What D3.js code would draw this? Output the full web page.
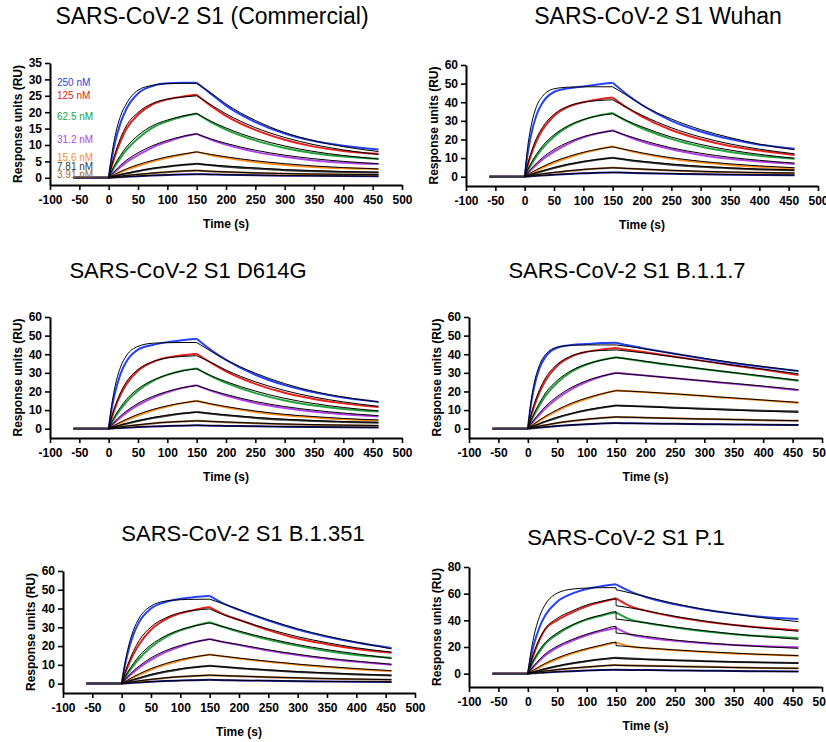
<!DOCTYPE html>
<html>
<head>
<meta charset="utf-8">
<script src="https://cdn.jsdelivr.net/npm/d3@7"></script>
<style>
  body { margin: 0; background: #fff; }
  svg text { font-family: "Liberation Sans", Arial, sans-serif; }
</style>
</head>
<body>
<script>
// time points (s) for the sensorgrams and for the fitted curves (150 twice = step of the fit)
const times = [-60, 0, 5, 10, 20, 30, 50, 75, 100, 125, 150, 175, 200, 250, 300, 350, 400, 460];
const fitTimes = [0, 5, 10, 20, 30, 50, 75, 100, 125, 150, 150, 175, 200, 250, 300, 350, 400, 460];

const concLabels = ["250 nM", "125 nM", "62.5 nM", "31.2 nM", "15.6 nM", "7.81 nM", "3.91 nM", "1.95 nM"];
const seriesColors = ["#2442f5", "#e3211c", "#22a33a", "#b23ee6", "#ff8c1a", "#3a3a3a", "#a0662e", "#1c1c9a"];

const xTicks = [-100, -50, 0, 50, 100, 150, 200, 250, 300, 350, 400, 450, 500];
const yTicks35 = [0, 5, 10, 15, 20, 25, 30, 35];
const yTicks60 = [0, 10, 20, 30, 40, 50, 60];
const yTicks80 = [0, 20, 40, 60, 80];

// SARS-CoV-2 S1 (Commercial)
const commercialData = [
  [0,0,5.6,10.1,16.6,20.9,25.7,28,28.8,29,29,25.5,22,17,13.5,11.2,9.8,8.6],
  [0,0,3.3,6.2,11,14.8,19.2,22.4,23.9,24.7,25.3,21.8,18.9,14.6,11.6,9.5,8.2,7.3],
  [0,0,1.7,3.3,6,8.4,12,15.3,17.2,18.6,19.6,16.9,14.7,11.4,9.1,7.5,6.5,5.8],
  [0,0,0.9,1.7,3.3,4.7,6.9,9.3,11,12.4,13.4,11.6,10.1,7.9,6.4,5.3,4.6,4.2],
  [0,0,0.4,0.9,1.7,2.4,3.6,5,6.1,7,7.9,6.9,6.1,4.8,3.9,3.3,2.9,2.7],
  [0,0,0.2,0.5,0.9,1.3,2,2.8,3.4,3.9,4.3,3.8,3.4,2.8,2.3,2,1.8,1.6],
  [0,0,0.1,0.2,0.4,0.6,1,1.4,1.7,2,2.2,1.95,1.75,1.45,1.25,1.1,1,0.9],
  [0,0,0.05,0.1,0.2,0.3,0.5,0.7,0.85,1,1.1,1,0.9,0.75,0.65,0.6,0.55,0.5]
];
const commercialFit = [
  [0,6.7,11.9,18.7,22.5,26.7,28.2,28.7,28.8,28.8,28.8,25.8,22.5,17.5,13.8,11.3,9.5,8],
  [0,3.7,6.9,12,15.8,19.9,22.7,24,24.6,25,25,22.2,19.5,15.3,12.3,10.1,8.5,7.1],
  [0,2,3.8,6.8,9.3,12.9,15.9,17.6,18.8,19.6,19.6,17.2,15.2,12,9.7,8,6.8,5.7],
  [0,1,2,3.8,5.3,7.6,9.8,11.4,12.6,13.4,13.4,11.8,10.5,8.4,6.9,5.8,5,4.3],
  [0,0.5,1,1.9,2.7,4,5.3,6.4,7.2,7.9,7.9,7.1,6.4,5.2,4.3,3.6,3.1,2.7],
  [0,0.25,0.5,1,1.4,2.1,2.9,3.5,3.9,4.3,4.3,3.9,3.6,3,2.5,2.2,1.9,1.7],
  [0,0.12,0.24,0.5,0.7,1.05,1.45,1.8,2.05,2.2,2.2,2,1.8,1.5,1.3,1.15,1.05,0.95],
  [0,0.06,0.12,0.25,0.35,0.55,0.75,0.9,1.02,1.1,1.1,1.02,0.93,0.8,0.7,0.62,0.57,0.52]
];

// SARS-CoV-2 S1 Wuhan
const wuhanData = [
  [0,0,12,21,33,39.5,45.5,47.5,48.5,49.5,50.5,44,38.5,30,24.3,20.2,17.2,15],
  [0,0,5.8,10.9,19,24.9,32.6,37.6,40,41.5,42.5,36.9,32.3,25.1,20.1,16.5,14,11.7],
  [0,0,3.1,5.9,10.9,15.1,21.5,27,30.5,32.8,34.2,29.7,26,20.3,16.2,13.3,11.3,9.6],
  [0,0,1.7,3.4,6.4,9.1,13.5,17.8,21.1,23.3,25,21.7,18.9,14.7,11.7,9.6,8.1,6.8],
  [0,0,0.9,1.7,3.3,4.8,7.5,10.3,12.7,14.6,16.3,14.2,12.4,9.6,7.7,6.3,5.3,4.5],
  [0,0,0.5,1,2,2.9,4.6,6.5,8,9.2,10.2,9,8,6.4,5.3,4.5,3.9,3.4],
  [0,0,0.2,0.5,1,1.4,2.2,3.1,3.8,4.4,4.8,4.4,4,3.3,2.8,2.4,2.1,1.9],
  [0,0,0.1,0.2,0.5,0.7,1.1,1.5,1.8,2.1,2.3,2.1,1.9,1.6,1.3,1.1,0.9,0.8]
];
const wuhanFit = [
  [0,15.6,25.6,37.6,43,47.2,48.1,48.3,48.3,48.3,48.3,43.5,38.5,31,25.3,21,17.5,14.5],
  [0,6.5,12,20.5,26.3,33.5,38,40,40.9,41.3,41.3,37,33,26.3,21.3,17.6,14.8,12.3],
  [0,3.6,6.8,12,16.3,22.5,27.5,30.7,32.7,33.8,33.8,30,26.8,21.3,17.3,14.3,12,9.9],
  [0,2,3.9,7.2,10.1,14.6,18.6,21.5,23.4,24.6,24.6,22,19.6,15.5,12.6,10.4,8.8,7.3],
  [0,1,2,3.7,5.3,8.1,10.9,13.1,14.8,16,16,14.4,12.8,10.2,8.3,6.9,5.8,4.8],
  [0,0.6,1.1,2.2,3.2,5,6.8,8.2,9.3,10.1,10.1,9.2,8.3,6.8,5.6,4.7,4.1,3.6],
  [0,0.3,0.5,1,1.5,2.3,3.2,3.9,4.4,4.8,4.8,4.4,4.1,3.4,2.9,2.5,2.2,2],
  [0,0.1,0.25,0.5,0.7,1.1,1.5,1.85,2.1,2.3,2.3,2.1,1.95,1.65,1.4,1.2,1,0.9]
];

// SARS-CoV-2 S1 D614G
const d614gData = [
  [0,0,10.3,18.2,29.2,35.9,42.5,45,46.5,47.5,48.3,42.1,37,29,23.4,19.5,16.7,14.4],
  [0,0,5.6,10.4,18,23.7,31.1,35.8,38.2,39.4,40.3,35.3,30.8,24.1,19.3,16,13.6,11.6],
  [0,0,2.9,5.6,10.3,14.3,20.4,25.6,28.9,31.1,32.4,28.1,24.6,19.1,15.2,12.5,10.6,9.2],
  [0,0,1.6,3.2,6,8.5,12.6,16.6,19.6,21.8,23.3,20.3,17.8,13.8,11.1,9.1,7.8,6.6],
  [0,0,0.8,1.6,3.1,4.5,7.1,9.8,11.9,13.6,15,13.1,11.5,9,7.2,6,5.1,4.4],
  [0,0,0.45,0.9,1.8,2.6,4.1,5.7,7,8.1,9,8,7.2,5.8,4.8,4.1,3.6,3.2],
  [0,0,0.2,0.4,0.9,1.3,2,2.8,3.4,3.9,4.3,3.9,3.5,2.9,2.4,2,1.8,1.6],
  [0,0,0.1,0.2,0.4,0.55,0.85,1.15,1.4,1.6,1.8,1.6,1.5,1.25,1.05,0.9,0.8,0.7]
];
const d614gFit = [
  [0,12.4,21.4,32.9,39.1,44.2,45.9,46.2,46.3,46.3,46.3,41.5,37,29.8,24.2,20,17,14.3],
  [0,6.2,11.3,19.2,25,31.8,36,38,38.8,39.2,39.2,35.5,31.5,25.2,20.5,17,14.4,12],
  [0,3.4,6.5,11.4,15.6,21.4,26,29,31,32.2,32.2,28.4,25.3,20.2,16.3,13.5,11.4,9.6],
  [0,1.9,3.6,6.8,9.4,13.6,17.3,20,22,23.2,23.2,20.6,18.4,14.6,11.9,9.9,8.4,7],
  [0,0.9,1.8,3.5,5,7.7,10.3,12.3,13.8,14.9,14.9,13.3,11.9,9.5,7.7,6.5,5.5,4.7],
  [0,0.5,1,2,2.9,4.4,6,7.3,8.2,8.9,8.9,8.2,7.4,6.1,5.1,4.4,3.8,3.4],
  [0,0.25,0.5,1,1.4,2.1,2.9,3.5,3.9,4.2,4.2,3.9,3.6,3,2.5,2.2,1.9,1.7],
  [0,0.1,0.2,0.4,0.6,0.9,1.2,1.45,1.65,1.8,1.8,1.65,1.5,1.3,1.1,0.95,0.85,0.75]
];

// SARS-CoV-2 S1 B.1.1.7
const b117Data = [
  [0,0,12.3,21.3,32.6,38.6,43.5,45,45.5,46,46.2,44.5,43,40.2,37.6,35.2,33.2,31],
  [0,0,6.1,11.3,19.6,25.8,33.8,38.9,41.3,42.5,43.3,42.2,41.1,38.7,36.3,34,31.8,28.8],
  [0,0,3.6,6.9,12.6,17.6,24.7,30.8,34.5,36.9,38.4,37.2,36,33.9,31.9,30,28.1,25.7],
  [0,0,2.1,4.1,7.6,10.9,16.2,21.4,25.2,28,30,29.3,28.6,27.1,25.6,24.1,22.6,20.6],
  [0,0,1.1,2.2,4.3,6.2,9.6,13.2,16.1,18.5,20.5,20.1,19.6,18.6,17.5,16.4,15.3,13.9],
  [0,0,0.65,1.3,2.6,3.8,5.9,8.1,9.9,11.3,12.5,12.2,11.9,11.3,10.7,10.2,9.7,9.2],
  [0,0,0.3,0.6,1.3,1.9,3,4.1,5,5.7,6.3,6.1,5.9,5.6,5.2,4.9,4.6,4.3],
  [0,0,0.15,0.3,0.6,0.9,1.4,1.95,2.4,2.75,3,2.9,2.8,2.6,2.45,2.3,2.15,2]
];
const b117Fit = [
  [0,13.6,23.1,34.3,39.8,43.8,44.8,45,45,45,45,44,42.8,40.2,37.8,35.5,33.4,31],
  [0,6.8,12.4,21,27.2,34.6,39.2,41.3,42,42.3,42.3,41.5,40.6,38.5,36.3,34.1,32,29.5],
  [0,4.1,7.8,13.9,19.1,25.9,31.4,34.7,36.8,38.2,38.2,37.3,36.2,34,32,30.1,28.3,26],
  [0,2.4,4.6,8.5,12,17.3,22.3,25.8,28.2,29.8,29.8,29.2,28.5,27.1,25.7,24.3,22.9,21],
  [0,1.2,2.4,4.7,6.7,10.2,13.8,16.5,18.7,20.4,20.4,20.1,19.7,18.7,17.6,16.5,15.4,14.1],
  [0,0.7,1.4,2.8,4,6.2,8.3,10.1,11.4,12.4,12.4,12.1,11.8,11.1,10.5,9.9,9.4,8.8],
  [0,0.35,0.7,1.4,2,3.1,4.2,5.1,5.8,6.3,6.3,6.1,5.9,5.5,5.2,4.9,4.6,4.3],
  [0,0.2,0.35,0.7,1,1.5,2,2.45,2.8,3,3,2.9,2.8,2.6,2.45,2.3,2.15,2]
];

// SARS-CoV-2 S1 B.1.351
const b1351Data = [
  [0,0,8.7,15.8,26.1,32.9,40,43.5,45.2,46.1,46.8,42.5,39.3,33.6,28.8,25,21.9,19],
  [0,0,4.6,8.7,15.6,21,28.7,34.2,37.4,39.3,40.8,36.8,34,28.5,24,21,18.5,16.5],
  [0,0,2.7,5.2,9.6,13.4,19.4,24.8,28.4,30.8,32.7,30,27.6,23.5,20.1,17.4,15.3,13.8],
  [0,0,1.6,3.2,6,8.5,12.7,16.8,19.8,22.1,23.8,22,20.6,17.6,15.2,13.2,11.6,10],
  [0,0,0.8,1.6,3.3,4.7,7.4,10.1,12.3,14.1,15.5,14.4,13.4,11.6,10.1,8.8,7.7,6.6],
  [0,0,0.5,1,2,2.9,4.6,6.3,7.7,8.7,9.5,8.8,8.2,7.1,6.2,5.5,4.9,4.3],
  [0,0,0.25,0.5,1,1.4,2.2,3,3.6,4.1,4.5,4.2,3.9,3.4,3,2.6,2.3,2],
  [0,0,0.1,0.2,0.45,0.65,1,1.35,1.6,1.8,2,1.85,1.7,1.5,1.3,1.1,1,0.9]
];
const b1351Fit = [
  [0,10,17.7,28.4,35,41.3,44,44.7,44.9,45,45,42.3,39.5,34,29.2,25.3,22.1,18.5],
  [0,5.2,9.8,17.2,23,30.2,35,37.8,39.1,39.8,39.8,36.5,33.9,29.1,25,21.8,19.1,16.8],
  [0,3.1,6,10.7,14.8,20.6,25.5,28.7,30.8,32.3,32.3,30.2,28,24.1,20.8,18.1,15.9,13.4],
  [0,1.9,3.6,6.8,9.4,13.7,17.6,20.3,22.3,23.6,23.6,22.1,20.8,18,15.6,13.6,12,10.3],
  [0,0.9,1.8,3.6,5.2,8,10.7,12.8,14.3,15.4,15.4,14.5,13.6,11.9,10.4,9.1,8,6.9],
  [0,0.55,1.1,2.2,3.1,4.9,6.6,7.9,8.8,9.4,9.4,8.9,8.3,7.3,6.4,5.7,5.1,4.5],
  [0,0.28,0.55,1.05,1.5,2.3,3.1,3.7,4.15,4.5,4.5,4.25,4,3.5,3.1,2.7,2.4,2.1],
  [0,0.12,0.23,0.48,0.68,1.05,1.4,1.65,1.85,2,2,1.88,1.75,1.55,1.35,1.15,1.05,0.95]
];

// SARS-CoV-2 S1 P.1
const p1Data = [
  [0,0,12,21.5,35,44,54,60,63.5,65.5,67,61.5,57.5,52,48,45,42.5,41],
  [0,0,8,14.5,25.5,33.5,40,45.8,50.5,53.7,56.5,50.5,47.3,42.7,39.2,36.5,34.5,32.6],
  [0,0,5,9.5,16.5,22.5,29.5,36,40.5,43.5,46,40.5,38.2,34.7,31.8,29.6,28,26.8],
  [0,0,2.7,5.2,9.8,13.8,19.5,24.6,28.8,32,34.3,29.2,27.2,24.6,22.8,21.5,20.5,19.8],
  [0,0,1.3,2.5,4.8,7.1,11,15,18.3,21,23.5,20.3,19.2,17.6,16.3,15.2,14.3,13.4],
  [0,0,0.6,1.2,2.4,3.5,5.5,7.6,9.3,10.8,12,11.3,10.8,10,9.4,8.8,8.4,8],
  [0,0,0.3,0.6,1.2,1.8,2.9,4,4.9,5.7,6.5,6.2,6,5.5,5.1,4.7,4.3,4],
  [0,0,0.15,0.3,0.6,0.85,1.35,1.9,2.3,2.7,3,2.8,2.7,2.4,2.2,2,1.8,1.6]
];
const p1Fit = [
  [0,15.5,27.3,43,52.1,60.4,63.4,64.2,64.5,64.5,63,60.5,57.8,52.5,48.2,44.8,41.9,39],
  [0,8.5,15.5,26.5,34,41.5,47,51.5,54.3,56,51,49.3,47.3,43,39.5,36.5,34.2,31.8],
  [0,5.8,10.5,18,23.5,30.5,36.5,41,44,46.5,41,39.6,38.2,35,32.2,29.8,27.8,25.8],
  [0,3,5.8,10.8,15,20.6,25.6,29.6,32.8,35.5,30.5,29.5,28,25.2,23.2,21.5,20.2,19],
  [0,1.5,2.8,5.4,7.8,11.8,15.7,18.8,21.4,23.5,21,20.2,19.3,17.8,16.5,15.4,14.4,13.5],
  [0,0.7,1.3,2.6,3.8,5.8,7.9,9.6,10.9,11.9,11.3,11,10.6,9.9,9.3,8.8,8.4,7.9],
  [0,0.35,0.7,1.4,2,3.1,4.2,5.1,5.9,6.4,6.1,6,5.8,5.4,5,4.6,4.3,4],
  [0,0.17,0.33,0.65,0.9,1.4,1.95,2.35,2.7,2.95,2.8,2.7,2.6,2.4,2.2,2,1.8,1.6]
];

// panel layout
const panels = [
  { title: "SARS-CoV-2 S1 (Commercial)", data: commercialData, fit: commercialFit, yDomain: [-2.2, 35], yTicks: yTicks35,
    x0: 50, x1: 402, yTop: 63, yBottom: 185, tx: 212, ty: 24, tSize: 23, legend: true },
  { title: "SARS-CoV-2 S1 Wuhan", data: wuhanData, fit: wuhanFit, yDomain: [-5, 60], yTicks: yTicks60,
    x0: 466, x1: 818, yTop: 65, yBottom: 186, tx: 658, ty: 24, tSize: 23 },
  { title: "SARS-CoV-2 S1 D614G", data: d614gData, fit: d614gFit, yDomain: [-5, 60], yTicks: yTicks60,
    x0: 50, x1: 402, yTop: 317, yBottom: 438, tx: 188, ty: 278, tSize: 22 },
  { title: "SARS-CoV-2 S1 B.1.1.7", data: b117Data, fit: b117Fit, yDomain: [-5, 60], yTicks: yTicks60,
    x0: 469, x1: 822, yTop: 317, yBottom: 438, tx: 627, ty: 278, tSize: 22 },
  { title: "SARS-CoV-2 S1 B.1.351", data: b1351Data, fit: b1351Fit, yDomain: [-5, 60], yTicks: yTicks60,
    x0: 63, x1: 415, yTop: 571, yBottom: 693, tx: 243, ty: 541, tSize: 22 },
  { title: "SARS-CoV-2 S1 P.1", data: p1Data, fit: p1Fit, yDomain: [-10, 80], yTicks: yTicks80,
    x0: 469, x1: 822, yTop: 567, yBottom: 687, tx: 626, ty: 545, tSize: 22 }
];

// y value (RU) where each legend label of the first panel sits
const legendY = [29, 25, 18.8, 11.8, 6.3, 3.3, 0.9];
// drawing order of the measured curves (dark 7.81 nM last so the baseline reads black)
const drawOrder = [7, 6, 4, 3, 2, 1, 0, 5];

const svg = d3.select("body").append("svg")
  .attr("width", 826)
  .attr("height", 742)
  .style("background", "#fff");

// split a curve into association / dissociation pieces (and the step of the fit)
function pieces(ts, vs) {
  const pts = ts.map((t, i) => [t, vs[i]]);
  const segs = [[]];
  pts.forEach((p, i) => {
    const cur = segs[segs.length - 1];
    if (cur.length && cur[cur.length - 1][0] === p[0]) {
      cur.push(p);
      segs.push([p]);
      return;
    }
    cur.push(p);
    if ((p[0] === 0 || p[0] === 150) && i > 0 && i < pts.length - 1 && pts[i + 1][0] !== p[0]) segs.push([p]);
  });
  return segs.filter(s => s.length > 1);
}

panels.forEach(pn => {
  const x = d3.scaleLinear().domain([-100, 500]).range([pn.x0, pn.x1]);
  const y = d3.scaleLinear().domain(pn.yDomain).range([pn.yBottom, pn.yTop]);
  const g = svg.append("g");

  const line = d3.line()
    .x(d => x(d[0]))
    .y(d => y(d[1]))
    .curve(d3.curveMonotoneX);
  const straight = d3.line().x(d => x(d[0])).y(d => y(d[1]));

  // measured curves
  drawOrder.forEach(i => {
    pieces(times, pn.data[i]).forEach(seg => {
      g.append("path")
        .attr("d", line(seg))
        .attr("fill", "none")
        .attr("stroke", seriesColors[i])
        .attr("stroke-width", 2);
    });
  });

  // fitted curves
  pn.fit.forEach(vals => {
    pieces(fitTimes, vals).forEach(seg => {
      g.append("path")
        .attr("d", seg.length === 2 ? straight(seg) : line(seg))
        .attr("fill", "none")
        .attr("stroke", "#000")
        .attr("stroke-width", 1);
    });
  });

  // axes
  const xAxis = g.append("g")
    .attr("transform", `translate(0,${pn.yBottom})`)
    .call(d3.axisBottom(x).tickValues(xTicks).tickFormat(d => String(d))
      .tickSize(5).tickSizeOuter(0).tickPadding(5));
  const yAxis = g.append("g")
    .attr("transform", `translate(${pn.x0},0)`)
    .call(d3.axisLeft(y).tickValues(pn.yTicks).tickFormat(d => String(d))
      .tickSize(5).tickSizeOuter(0).tickPadding(3));

  [xAxis, yAxis].forEach(a => {
    a.select(".domain").attr("stroke", "#000").attr("stroke-width", 2);
    a.selectAll(".tick line").attr("stroke", "#000").attr("stroke-width", 1.6);
    a.selectAll(".tick text")
      .attr("fill", "#000")
      .style("font-family", "'Liberation Sans', Arial, sans-serif")
      .style("font-size", "12px")
      .style("font-weight", "bold");
  });

  // axis titles
  g.append("text")
    .attr("x", (pn.x0 + pn.x1) / 2)
    .attr("y", pn.yBottom + 43)
    .attr("text-anchor", "middle")
    .style("font-size", "12px")
    .style("font-weight", "bold")
    .text("Time (s)");

  g.append("text")
    .attr("transform", `translate(${pn.x0 - 32},${(pn.yTop + pn.yBottom) / 2}) rotate(-90)`)
    .attr("text-anchor", "middle")
    .attr("dy", "0.35em")
    .style("font-size", "12px")
    .style("font-weight", "bold")
    .text("Response units (RU)");

  // panel title
  g.append("text")
    .attr("x", pn.tx)
    .attr("y", pn.ty)
    .attr("text-anchor", "middle")
    .style("font-size", pn.tSize + "px")
    .text(pn.title);

  if (pn.legend) {
    legendY.forEach((v, i) => {
      g.append("text")
        .attr("x", pn.x0 + 7)
        .attr("y", y(v))
        .attr("dy", "0.35em")
        .attr("fill", seriesColors[i])
        .style("font-size", "10px")
        .text(concLabels[i]);
    });
  }
});
</script>
</body>
</html>
